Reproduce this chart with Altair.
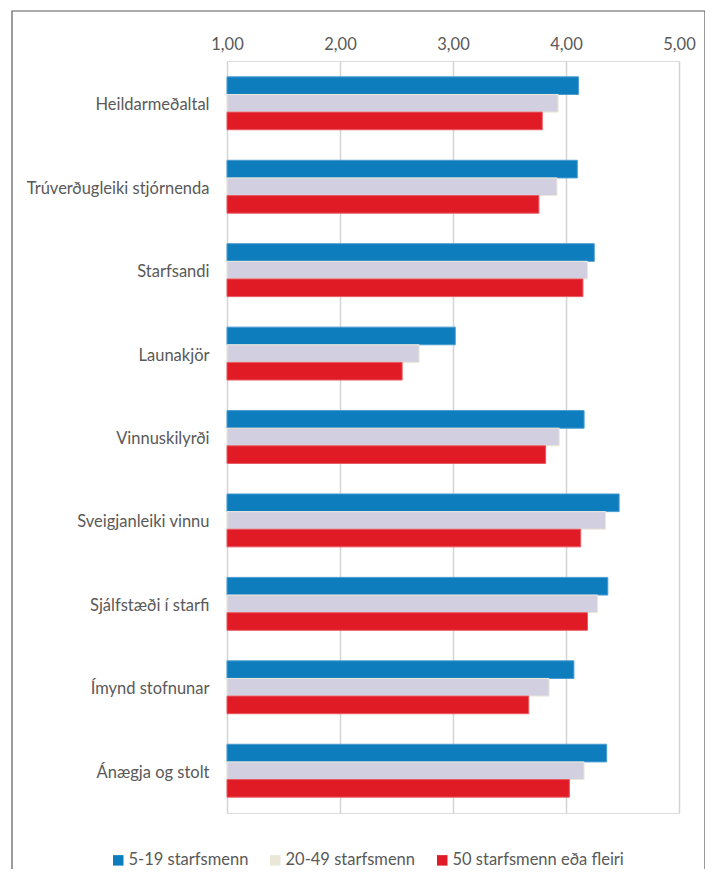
import altair as alt
import pandas as pd

categories = [
    "Heildarmeðaltal",
    "Trúverðugleiki stjórnenda",
    "Starfsandi",
    "Launakjör",
    "Vinnuskilyrði",
    "Sveigjanleiki vinnu",
    "Sjálfstæði í starfi",
    "Ímynd stofnunar",
    "Ánægja og stolt",
]
series = ["5-19 starfsmenn", "20-49 starfsmenn", "50 starfsmenn eða fleiri"]
v_5_19 = [4.11, 4.10, 4.25, 3.02, 4.16, 4.47, 4.37, 4.07, 4.36]
v_20_49 = [3.93, 3.92, 4.19, 2.70, 3.94, 4.35, 4.28, 3.85, 4.16]
v_50 = [3.79, 3.76, 4.15, 2.55, 3.82, 4.13, 4.19, 3.67, 4.03]
ticks = [1, 2, 3, 4, 5]

fill_colors = ["#0E7DBE", "#D2D0E0", "#E01B25"]
stroke_colors = ["#4A9BD0", "#ECE8D8", "#E85A62"]
legend_colors = ["#0E7DBE", "#EAE6D8", "#E01B25"]

rows = []
for s, vals in zip(series, [v_5_19, v_20_49, v_50]):
    for c, v in zip(categories, vals):
        rows.append({"category": c, "series": s, "value": v})
df = pd.DataFrame(rows)

FONT = "Lato"
TXT = "#595959"
FS = 16.5

bars = alt.Chart(df).mark_bar(strokeWidth=1).encode(
    x=alt.X(
        "value:Q",
        scale=alt.Scale(domain=[1, 5], nice=False, zero=False),
        axis=alt.Axis(
            orient="top",
            values=ticks,
            title=None,
            labelExpr="replace(format(datum.value, '.2f'), '.', ',')",
            domain=False,
            ticks=False,
            grid=True,
            gridColor="#D4D4D4",
            gridWidth=1.5,
            labelFont=FONT,
            labelFontSize=FS,
            labelColor=TXT,
            labelPadding=9,
            labelFlush=False,
        ),
    ),
    x2=alt.datum(1),
    y=alt.Y(
        "category:N",
        sort=categories,
        scale=alt.Scale(paddingInner=0.366, paddingOuter=0.19),
        axis=alt.Axis(
            title=None,
            domain=False,
            ticks=False,
            labelFont=FONT,
            labelFontSize=FS,
            labelColor=TXT,
            labelPadding=18,
            labelLimit=300,
            labelOffset=2,
        ),
    ),
    yOffset=alt.YOffset("series:N", sort=series),
    fill=alt.Fill(
        "series:N",
        sort=series,
        scale=alt.Scale(domain=series, range=fill_colors),
        legend=None,
    ),
    stroke=alt.Stroke(
        "series:N",
        sort=series,
        scale=alt.Scale(domain=series, range=stroke_colors),
        legend=None,
    ),
)

legend_df = pd.DataFrame({"series": series})
legend_layer = alt.Chart(legend_df).mark_square(opacity=1, filled=True).encode(
    color=alt.Color(
        "series:N",
        sort=series,
        scale=alt.Scale(domain=series, range=legend_colors),
        legend=alt.Legend(
            title=None,
            orient="none",
            direction="horizontal",
            legendX=-117,
            legendY=791,
            symbolType="square",
            symbolSize=110,
            symbolStrokeWidth=0,
            symbolOpacity=1,
            labelFont=FONT,
            labelFontSize=FS,
            labelColor=TXT,
            labelLimit=400,
            columnPadding=18,
            labelOffset=2,
        ),
    ),
    x=alt.value(-1000),
    y=alt.value(-1000),
)

frame = alt.Chart(pd.DataFrame({"a": [0]})).mark_rect(
    fill=None, stroke="#5A5A5A", strokeWidth=1.2
).encode(
    x=alt.value(-215),
    x2=alt.value(478),
    y=alt.value(-50),
    y2=alt.value(900),
)

chart = alt.layer(frame, bars, legend_layer).resolve_scale(
    color="independent"
).properties(
    width=452,
    height=752,
    padding={"left": 219, "top": 53, "right": 26, "bottom": 56},
    autosize=alt.AutoSizeParams(type="none"),
).configure_view(stroke=None).configure(background="white")

chart.save("out.html", embed_options={"renderer": "svg", "actions": False})
